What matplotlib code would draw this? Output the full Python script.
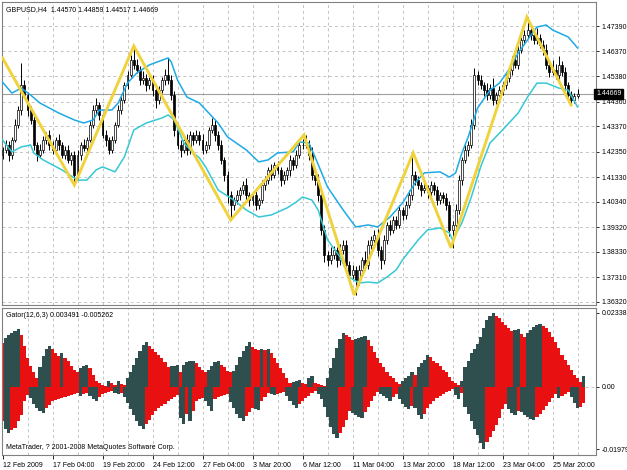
import numpy as np
import matplotlib.pyplot as plt

plt.rcParams['font.family'] = ['Liberation Sans', 'DejaVu Sans']

PIP = 0.0001

# GBPUSD H4 candles, 12 Feb 2009 -> 26 Mar 2009
first_open = 1.4222
closes = [
    1.4242, 1.4262, 1.4222, 1.4282, 1.4342, 1.4402, 1.4502, 1.4462, 1.4402, 1.4362,
    1.4262, 1.4222, 1.4242, 1.4282, 1.4302, 1.4262, 1.4242, 1.4282, 1.4262, 1.4222,
    1.4242, 1.4202, 1.4222, 1.4141, 1.4222, 1.4262, 1.4250, 1.4282, 1.4342, 1.4402,
    1.4422, 1.4382, 1.4302, 1.4282, 1.4242, 1.4282, 1.4342, 1.4402, 1.4442, 1.4502,
    1.4543, 1.4603, 1.4583, 1.4563, 1.4522, 1.4530, 1.4502, 1.4522, 1.4482, 1.4442,
    1.4482, 1.4522, 1.4543, 1.4522, 1.4462, 1.4322, 1.4262, 1.4242, 1.4282, 1.4242,
    1.4302, 1.4282, 1.4302, 1.4282, 1.4242, 1.4262, 1.4322, 1.4342, 1.4302, 1.4262,
    1.4202, 1.4141, 1.4061, 1.4021, 1.4041, 1.4061, 1.4081, 1.4101, 1.4061, 1.4041,
    1.4061, 1.4021, 1.4041, 1.4101, 1.4121, 1.4161, 1.4141, 1.4181, 1.4161, 1.4121,
    1.4141, 1.4161, 1.4202, 1.4181, 1.4222, 1.4262, 1.4262, 1.4262, 1.4222, 1.4141,
    1.4121, 1.4061, 1.3921, 1.3821, 1.3801, 1.3821, 1.3841, 1.3801, 1.3841, 1.3861,
    1.3781, 1.3740, 1.3760, 1.3720, 1.3760, 1.3801, 1.3781, 1.3861, 1.3881, 1.3901,
    1.3841, 1.3801, 1.3881, 1.3941, 1.3921, 1.3961, 1.3941, 1.4001, 1.3981, 1.4021,
    1.4061, 1.4141, 1.4121, 1.4101, 1.4081, 1.4089, 1.4073, 1.4101, 1.4081, 1.4041,
    1.4061, 1.4049, 1.4021, 1.3921, 1.3941, 1.4001, 1.4121, 1.4202, 1.4242, 1.4262,
    1.4342, 1.4543, 1.4522, 1.4502, 1.4482, 1.4462, 1.4490, 1.4442, 1.4462, 1.4482,
    1.4502, 1.4530, 1.4563, 1.4603, 1.4583, 1.4643, 1.4683, 1.4703, 1.4723, 1.4703,
    1.4683, 1.4691, 1.4663, 1.4643, 1.4583, 1.4555, 1.4563, 1.4543, 1.4583, 1.4555,
    1.4502, 1.4462, 1.4442, 1.4457, 1.44669]

# wick lengths in pips above / below the candle body
up_wick = [
    12, 20, 15, 10, 25, 18, 90, 20, 12, 15,
    18, 10, 22, 14, 12, 20, 16, 10, 25, 12,
    15, 20, 12, 14, 18, 10, 22, 12, 15, 20,
    30, 14, 10, 18, 12, 16, 10, 22, 14, 12,
    15, 20, 56, 25, 14, 30, 18, 12, 20, 15,
    18, 12, 25, 68, 20, 15, 12, 18, 14, 22,
    16, 12, 20, 14, 25, 15, 12, 30, 18, 14,
    20, 12, 15, 18, 14, 22, 12, 16, 30, 12,
    14, 18, 10, 20, 15, 12, 25, 14, 18, 12,
    16, 14, 20, 12, 18, 15, 22, 40, 20, 30,
    15, 25, 18, 20, 14, 30, 16, 12, 25, 20,
    18, 14, 22, 15, 20, 12, 35, 18, 14, 20,
    25, 15, 18, 12, 20, 14, 16, 22, 12, 18,
    20, 89, 15, 18, 12, 20, 14, 16, 12, 18,
    14, 12, 20, 18, 15, 25, 20, 12, 18, 14,
    22, 28, 15, 20, 12, 30, 16, 40, 14, 18,
    12, 20, 15, 14, 25, 18, 12, 20, 52, 16,
    18, 40, 14, 20, 25, 18, 40, 22, 35, 15,
    20, 14, 18, 12, 19]
dn_wick = [
    15, 12, 25, 18, 10, 14, 20, 12, 22, 15,
    20, 25, 14, 12, 18, 22, 15, 12, 20, 14,
    18, 12, 20, 40, 15, 20, 12, 18, 10, 14,
    15, 20, 12, 25, 18, 12, 14, 10, 16, 12,
    14, 10, 18, 12, 20, 15, 25, 14, 22, 30,
    15, 12, 18, 14, 20, 25, 18, 30, 14, 20,
    15, 22, 14, 20, 18, 12, 16, 14, 25, 20,
    18, 22, 30, 60, 20, 15, 18, 14, 22, 25,
    18, 20, 15, 12, 18, 14, 20, 12, 16, 25,
    14, 18, 25, 20, 12, 14, 18, 12, 22, 20,
    18, 25, 20, 30, 25, 18, 15, 30, 20, 18,
    25, 20, 15, 60, 18, 22, 20, 15, 18, 14,
    25, 35, 18, 15, 20, 14, 18, 12, 20, 15,
    14, 18, 20, 15, 22, 12, 25, 14, 18, 20,
    15, 18, 22, 25, 72, 20, 15, 18, 12, 25,
    14, 18, 20, 15, 22, 18, 14, 20, 16, 12,
    18, 14, 16, 20, 12, 18, 14, 16, 12, 20,
    15, 18, 12, 20, 16, 22, 14, 18, 20, 15,
    18, 14, 20, 12, 5.3]

# ZigZag turning points (bar index, price)
zz_bar = [0, 23, 42, 73, 96.5, 112.5, 131.4, 143.5, 167.8, 181.9]
zz_price = [1.4611, 1.4101, 1.4659, 1.3961, 1.4302, 1.3660, 1.4230, 1.3849, 1.4775, 1.4422]

# channel lines (bar index, price)
upper_bar = [0, 3, 6, 9, 12, 18, 23, 26, 29, 31, 35, 37, 40, 43, 47, 53, 54, 56, 59, 63,
             69, 72, 78, 82, 85, 88, 93, 95, 98, 100, 104, 109, 113, 117, 120, 124, 126, 128,
             132, 135, 140, 143, 145, 147, 149, 152, 156, 159, 162, 165, 168, 171, 174, 176,
             181, 184]
upper_price = [1.4514, 1.4470, 1.4490, 1.4462, 1.4430, 1.4390, 1.4362, 1.4350, 1.4362, 1.4402,
               1.4402, 1.4430, 1.4510, 1.4551, 1.4583, 1.4611, 1.4595, 1.4522, 1.4454, 1.4430,
               1.4350, 1.4294, 1.4242, 1.4194, 1.4202, 1.4230, 1.4234, 1.4274, 1.4270, 1.4214,
               1.4093, 1.4001, 1.3933, 1.3941, 1.3933, 1.3973, 1.4001, 1.4029, 1.4109, 1.4150,
               1.4154, 1.4133, 1.4150, 1.4230, 1.4294, 1.4410, 1.4482, 1.4510, 1.4563, 1.4631,
               1.4683, 1.4735, 1.4743, 1.4723, 1.4695, 1.4651]
lower_bar = [0, 3, 6, 9, 10, 13, 19, 24, 27, 30, 32, 36, 39, 42, 46, 51, 53, 55, 58, 61,
             63, 65, 69, 74, 78, 82, 86, 91, 94, 96, 99, 101, 104, 108, 111, 114, 117, 120,
             123, 126, 128, 133, 136, 140, 143, 144, 147, 150, 153, 156, 160, 165, 168, 171,
             174, 178, 181, 184]
lower_price = [1.4282, 1.4234, 1.4254, 1.4262, 1.4230, 1.4202, 1.4162, 1.4121, 1.4121, 1.4162,
               1.4174, 1.4154, 1.4214, 1.4322, 1.4350, 1.4370, 1.4382, 1.4362, 1.4270, 1.4230,
               1.4210, 1.4174, 1.4081, 1.4041, 1.4001, 1.3973, 1.3981, 1.4009, 1.4033, 1.4053,
               1.4041, 1.4001, 1.3881, 1.3813, 1.3732, 1.3708, 1.3712, 1.3708, 1.3732, 1.3761,
               1.3801, 1.3881, 1.3921, 1.3929, 1.3909, 1.3881, 1.3949, 1.4053, 1.4174, 1.4270,
               1.4322, 1.4390, 1.4454, 1.4510, 1.4510, 1.4490, 1.4482, 1.4414]

# Gator(12,6,3) histograms, in units of 0.001
gator_up = [
    13.8, 15.4, 16.3, 17.0, 17.6, 18.2, 16.3, 12.8, 9.0, 6.4, 4.5, 2.6,
    6.1, 9.6, 11.8, 12.8, 11.8, 10.6, 9.6, 10.6, 9.0, 8.0, 6.7, 5.4, 4.5,
    5.8, 6.7, 7.0, 5.8, 3.8, 1.9, 1.3, 0.6, 0.3, 1.9, 1.3, 0.6, 1.9, 1.0, 0.6,
    2.9, 4.8, 7.0, 9.0, 11.2, 13.1, 14.1, 12.8, 11.8, 10.9, 9.9, 9.0, 7.7, 6.1,
    6.4, 6.7, 7.0, 4.5, 7.0, 7.7, 8.0, 8.3, 7.4, 6.1, 5.4, 4.8,
    5.4, 6.4, 7.7, 8.3, 7.0, 6.1, 5.1, 4.5,
    5.1, 7.0, 9.3, 11.2, 12.8, 14.1, 12.5, 11.8, 11.5, 11.8, 11.5, 11.8,
    10.6, 9.0, 7.4, 5.8, 4.2, 2.6, 1.3, 1.6, 1.9, 2.2, 1.3, 1.0, 2.6, 3.5,
    1.3, 1.0, 0.6, 0.3, 2.9, 5.8, 9.0, 12.2, 15.0, 17.0, 16.3, 15.7, 14.7,
    15.0, 15.4, 15.7, 16.0, 14.7, 12.8, 10.9, 9.0, 7.4, 6.1, 4.8, 3.5, 2.6, 1.6, 1.0,
    1.9, 2.9, 3.5, 4.5, 3.8, 6.1, 7.4, 8.6, 9.9,
    9.3, 8.3, 7.4, 6.4, 5.4, 4.5, 3.2, 1.9, 1.3, 0.6, 1.9,
    6.1, 8.3, 10.6, 11.8, 13.4, 15.7, 18.6, 21.1, 22.4, 23.383,
    22.4, 21.8, 20.5, 19.5, 18.6, 17.6, 17.9, 18.2, 16.6, 15.7,
    17.0, 17.9, 18.9, 19.5, 19.8,
    19.2, 18.6, 17.3, 15.7, 14.1, 12.2, 10.2, 8.6, 7.0, 5.4, 3.8, 2.6, 1.6,
    3.491]
gator_dn = [
    -10.9, -13.4, -14.7, -13.8, -13.1, -10.9, -9.0, -4.5, -2.6,
    -3.5, -5.4, -6.7, -7.7, -8.3,
    -6.7, -5.8, -4.5, -4.2, -3.8, -3.5, -3.2, -2.9, -2.6, -2.2, -1.9,
    -2.9, -2.2, -1.9, -2.9, -3.8, -4.5, -3.2, -2.2, -1.9, -1.6, -1.3,
    -1.9, -2.2, -1.9,
    -3.2, -5.1, -7.0, -9.0, -10.9, -12.5, -13.4,
    -11.8, -10.6, -9.0, -7.7, -6.7, -6.1, -5.4, -4.5, -3.8, -3.2, -2.6,
    -9.9, -11.8, -8.6, -10.9, -7.7, -4.5, -3.8, -3.5,
    -4.5, -6.1, -7.7, -3.8, -3.2, -2.9, -2.6, -2.2,
    -4.8, -6.7, -8.6, -9.9, -10.9, -9.3, -8.0, -6.7, -7.0, -7.4,
    -4.5, -3.2, -1.9, -2.2, -2.6, -2.2, -1.9, -1.6,
    -2.9, -4.5, -5.8, -6.7, -5.4, -4.5, -3.5, -2.9, -1.9, -1.3,
    -2.2, -3.8, -6.4, -9.6, -12.8, -15.0, -16.3, -14.7, -12.8, -10.6, -7.7,
    -8.3, -9.0, -9.6, -9.9, -8.0, -6.4, -4.5, -2.9, -1.6,
    -2.2, -2.9, -3.5, -4.5, -3.2, -2.2, -3.8, -5.4, -6.4, -7.0, -6.1,
    -6.7, -9.0, -10.2,
    -8.6, -6.7, -5.4, -4.5, -3.5, -2.9, -2.2, -1.6, -1.3, -0.6,
    -2.6, -3.8, -1.9,
    -6.4, -8.6, -10.9, -13.4, -15.4, -17.9, -19.797,
    -17.6, -16.0, -14.1, -12.2, -9.9, -7.0, -5.4,
    -7.0, -8.3, -9.0, -7.7, -8.0, -9.0, -9.6, -10.2, -10.6,
    -9.6, -8.6, -7.4, -6.1, -4.8, -3.5, -2.2, -3.5, -2.9, -2.2, -1.6,
    -3.2, -5.1, -6.7, -6.4, -5.262]

price_ticks = [1.47390, 1.46370, 1.45380, 1.44360, 1.43370, 1.42350,
               1.41330, 1.40340, 1.39320, 1.38330, 1.37310, 1.36320]
date_labels = ['12 Feb 2009', '17 Feb 04:00', '19 Feb 20:00', '24 Feb 12:00',
               '27 Feb 04:00', '3 Mar 20:00', '6 Mar 12:00', '11 Mar 04:00',
               '13 Mar 20:00', '18 Mar 12:00', '23 Mar 04:00', '25 Mar 20:00']
last_price = 1.44669

W, H = 627, 470
fig = plt.figure(figsize=(W / 100, H / 100), dpi=100)


def box(l, t, r, b):
    return [l / W, 1 - b / H, (r - l) / W, (b - t) / H]


ax = fig.add_axes(box(2, 2, 596, 305))
ax2 = fig.add_axes(box(2, 308, 596, 455))
xlim = (-0.16, 189.9)
fs = 5.0
grid_kw = dict(color='#c4c4c4', lw=0.7, ls=(0, (3, 3)), zorder=0)

# ---- price window ----
closes = np.array(closes)
opens = np.r_[first_open, closes[:-1]]
idx = np.arange(len(closes))
tops = np.maximum(opens, closes)
bots = np.minimum(opens, closes)
highs = tops + np.array(up_wick) * PIP
lows = bots - np.array(dn_wick) * PIP

for k in range(8, 190, 8):
    ax.axvline(k, **grid_kw)
for p in price_ticks:
    ax.axhline(p, **grid_kw)
ax.axhline(last_price, color='#a0a0a0', lw=0.8, zorder=1)

ax.vlines(idx, lows, highs, color='black', lw=0.7, zorder=2)
fill = np.where(closes >= opens, 'white', 'black')
ax.bar(idx, np.maximum(tops - bots, 0.00003), bottom=bots, width=0.62,
       color=fill, edgecolor='black', linewidth=0.5, zorder=3)

ax.plot(upper_bar, upper_price, color='#1eaae6', lw=1.1, zorder=4)
ax.plot(lower_bar, lower_price, color='#36c8d4', lw=1.1, zorder=4)
ax.plot(zz_bar, zz_price, color='#efd23c', lw=2.1, zorder=5,
        solid_joinstyle='miter')

ax.set_xlim(*xlim)
ax.set_ylim(1.36199, 1.48353)
ax.set_xticks([])
ax.yaxis.tick_right()
ax.set_yticks(price_ticks)
ax.set_yticklabels(['%.5f' % p for p in price_ticks])
ax.tick_params(axis='y', length=2, width=0.6, pad=2, labelsize=fs, colors='black')
ax.text(1.0, last_price, '%.5f' % last_price, transform=ax.get_yaxis_transform(),
        ha='left', va='center', fontsize=fs, color='white',
        bbox=dict(fc='black', ec='black', pad=1.2))
ax.text(0.006, 0.985, 'GBPUSD,H4  1.44570 1.44859 1.44517 1.44669',
        transform=ax.transAxes, ha='left', va='top', fontsize=fs)

# ---- Gator window ----
up = np.array(gator_up) / 1000
dn = np.array(gator_dn) / 1000
gidx = np.arange(len(up))
up_col = ['#e81010' if i == 0 or up[i] <= up[i - 1] else '#2f4f4f' for i in gidx]
dn_col = ['#e81010' if i == 0 or abs(dn[i]) <= abs(dn[i - 1]) else '#2f4f4f' for i in gidx]

for k in range(8, 190, 8):
    ax2.axvline(k, **grid_kw)
ax2.axhline(0, **grid_kw)
ax2.bar(gidx, up, width=1.02, color=up_col, linewidth=0, zorder=2)
ax2.bar(gidx, dn, width=1.02, color=dn_col, linewidth=0, zorder=2)

ax2.set_xlim(*xlim)
ax2.set_ylim(-0.0217, 0.02497)
ax2.yaxis.tick_right()
ax2.set_yticks([-0.019797, 0.0, 0.023383])
ax2.set_yticklabels(['-0.019797', '0.00', '0.023383'])
ax2.tick_params(axis='y', length=2, width=0.6, pad=2, labelsize=fs)
ax2.set_xticks(np.arange(0, 177, 16))
ax2.set_xticklabels(date_labels, ha='left')
ax2.tick_params(axis='x', length=3, width=0.6, pad=2, labelsize=fs)
ax2.text(0.006, 0.975, 'Gator(12,6,3) 0.003491 -0.005262',
         transform=ax2.transAxes, ha='left', va='top', fontsize=fs)
ax2.text(0.006, 0.03, 'MetaTrader, ? 2001-2008 MetaQuotes Software Corp.',
         transform=ax2.transAxes, ha='left', va='bottom', fontsize=fs)

for a in (ax, ax2):
    for s in a.spines.values():
        s.set_color('#808080')
        s.set_linewidth(0.8)

fig.savefig('out.png', dpi=100, facecolor='white')
